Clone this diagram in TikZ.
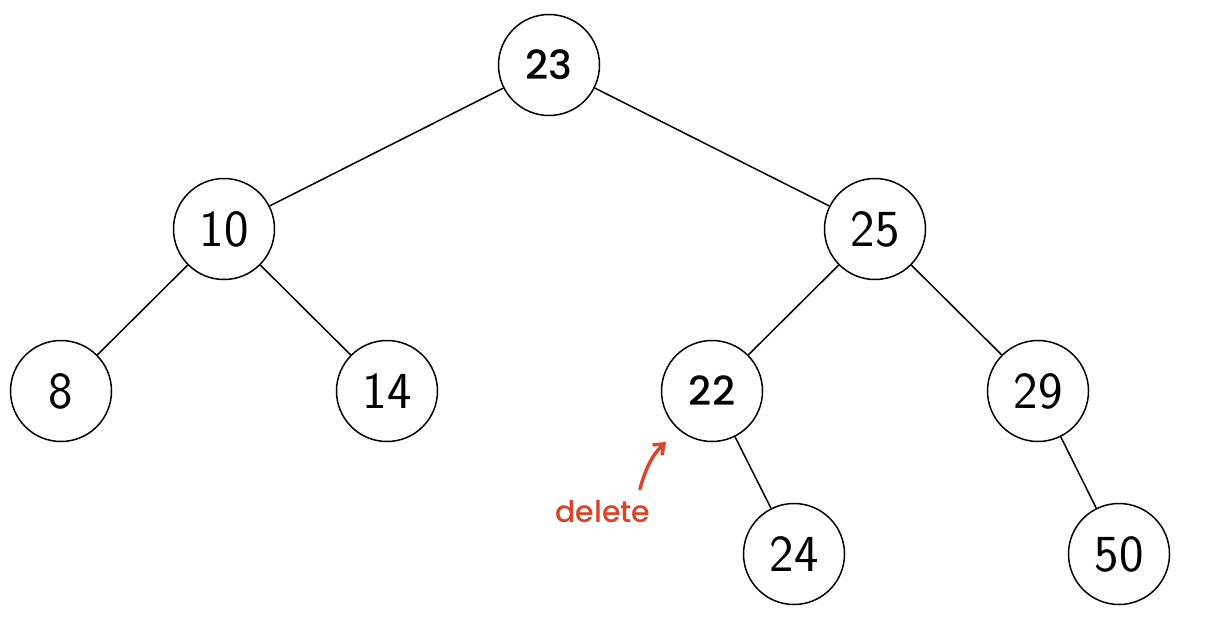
\documentclass[tikz,border=0pt]{standalone}
\usepackage{fontspec}
\setsansfont{Latin Modern Sans}
\newfontfamily\handfont{Poppins}[BoldFont={* Medium}]
\usetikzlibrary{arrows.meta}
\definecolor{notered}{HTML}{D9452B}
\begin{document}
\begin{tikzpicture}[x=1pt,y=-1pt,
  treenode/.style={draw, circle, line width=1.5pt, minimum size=101pt, inner sep=0pt,
    font=\sffamily\fontsize{52}{52}\selectfont},
  handnode/.style={treenode, font=\handfont\bfseries\fontsize{40}{40}\selectfont},
  edge/.style={line width=1.5pt},
  note/.style={notered, font=\handfont\bfseries\fontsize{30}{30}\selectfont}]
\useasboundingbox (0,0) rectangle (1209,637);
\node[handnode] (n23) at (549,65) {23};
\node[treenode] (n10) at (224,229) {10};
\node[treenode] (n25) at (875,229) {25};
\node[treenode] (n8)  at (61,391)  {8};
\node[treenode] (n14) at (387,391) {14};
\node[handnode] (n22) at (712,391) {22};
\node[treenode] (n29) at (1038,391) {29};
\node[treenode] (n24) at (794,554) {24};
\node[treenode] (n50) at (1119,554) {50};
\draw[edge] (n23) -- (n10);
\draw[edge] (n23) -- (n25);
\draw[edge] (n10) -- (n8);
\draw[edge] (n10) -- (n14);
\draw[edge] (n25) -- (n22);
\draw[edge] (n25) -- (n29);
\draw[edge] (n22) -- (n24);
\draw[edge] (n29) -- (n50);
\node[note] (del) at (603,512) {delete};
\coordinate (tip) at (666,442);
\draw[notered, line width=3.5pt, line cap=round, -{Straight Barb[length=9pt,width=14pt]}]
  (640,489) .. controls (645,470) and (652,455) .. (tip);
\end{tikzpicture}
\end{document}
